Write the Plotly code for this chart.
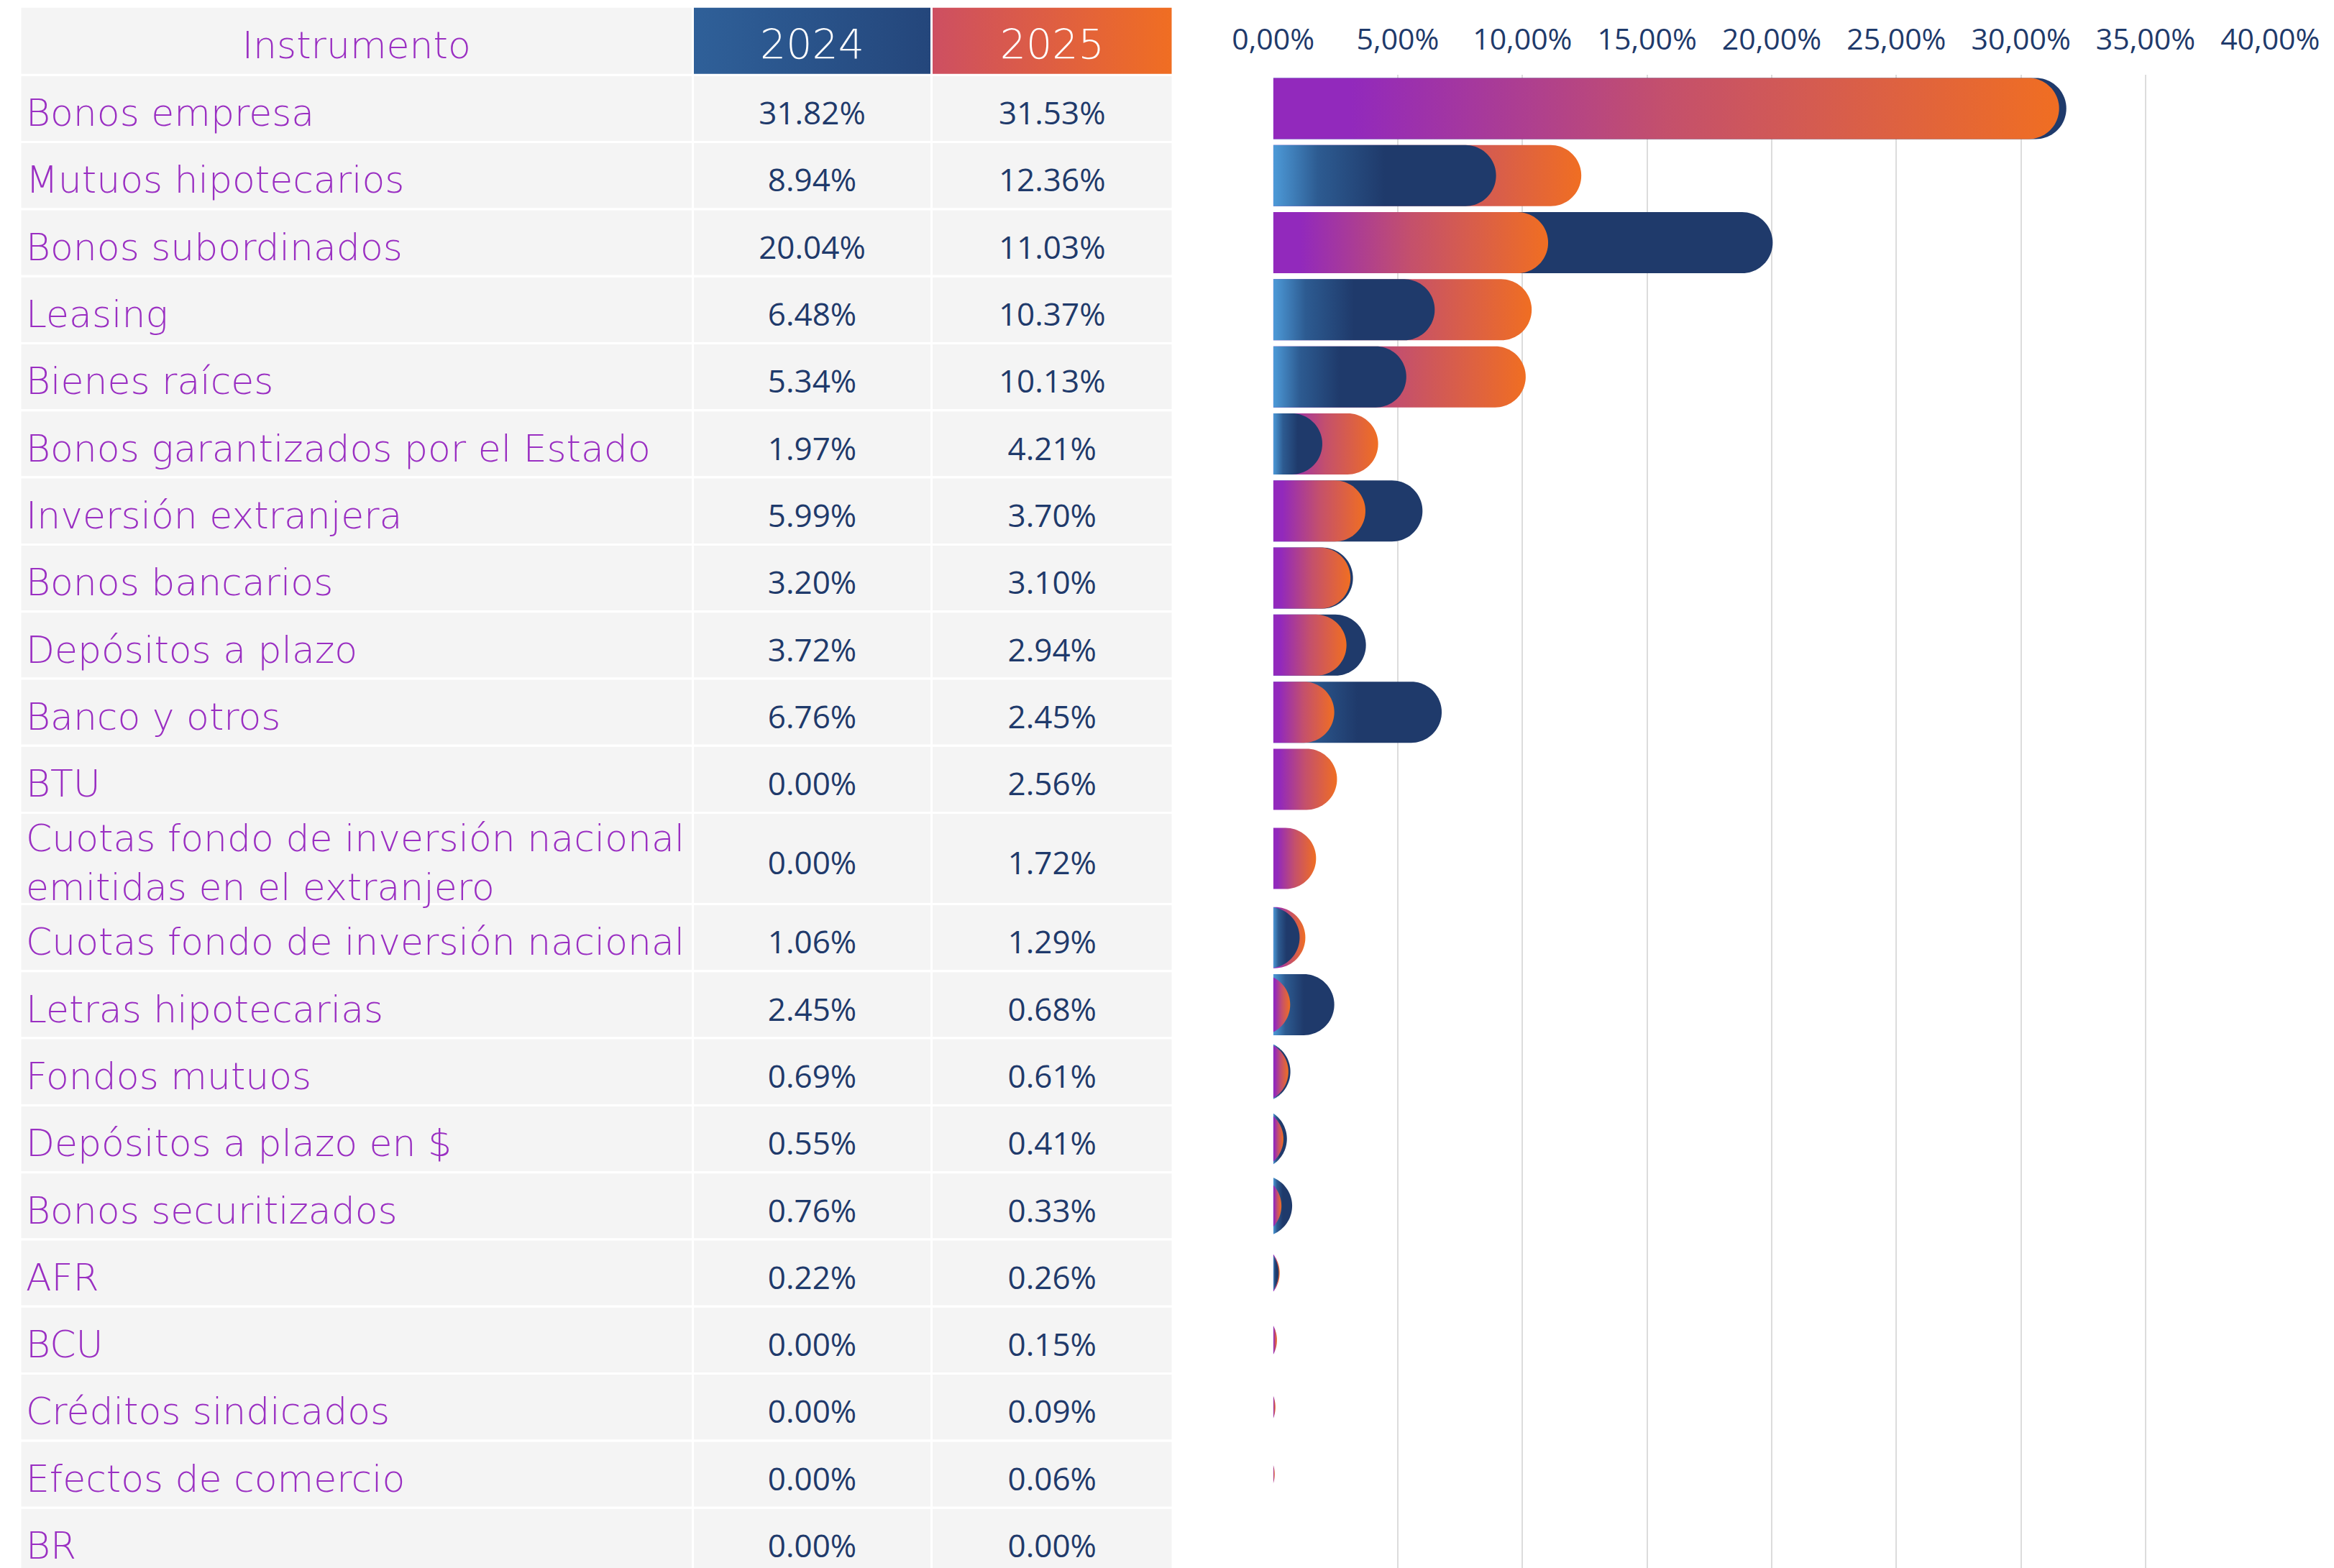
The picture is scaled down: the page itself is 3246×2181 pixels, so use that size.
import numpy as np
import plotly.graph_objects as go

# ---------------- data ----------------
instrumentos = [
    "Bonos empresa", "Mutuos hipotecarios", "Bonos subordinados", "Leasing", "Bienes raíces",
    "Bonos garantizados por el Estado", "Inversión extranjera", "Bonos bancarios",
    "Depósitos a plazo", "Banco y otros", "BTU",
    "Cuotas fondo de inversión nacional<br>emitidas en el extranjero",
    "Cuotas fondo de inversión nacional", "Letras hipotecarias", "Fondos mutuos",
    "Depósitos a plazo en $", "Bonos securitizados", "AFR", "BCU", "Créditos sindicados",
    "Efectos de comercio", "BR",
]
valores_2024 = [31.82, 8.94, 20.04, 6.48, 5.34, 1.97, 5.99, 3.20, 3.72, 6.76, 0.00,
                0.00, 1.06, 2.45, 0.69, 0.55, 0.76, 0.22, 0.00, 0.00, 0.00, 0.00]
valores_2025 = [31.53, 12.36, 11.03, 10.37, 10.13, 4.21, 3.70, 3.10, 2.94, 2.45, 2.56,
                1.72, 1.29, 0.68, 0.61, 0.41, 0.33, 0.26, 0.15, 0.09, 0.06, 0.00]
encabezados = ["Instrumento", "2024", "2025"]
tick_vals = [0, 5, 10, 15, 20, 25, 30, 35, 40]
tick_labels = ["0,00%", "5,00%", "10,00%", "15,00%", "20,00%", "25,00%", "30,00%", "35,00%", "40,00%"]

# ---------------- layout constants ----------------
W, H = 3246, 2181
UNIT_PX = 93.3            # height of a one-line row
DATA_TOP_PX = 104.3       # top of first data row
HEADER_H = 1.02           # header height in row units
EXTRA_LINE_H = 0.36       # extra height per additional text line
TEXT_DY = 0.12            # downward nudge of cell text (row units)
COL_EDGES = [28, 963.5, 1295.5, 1631]   # table column edges (px units of table axis)
BAR_X0_PX, BAR_X1_PX = 1770.7, 3157.3
X_MAX = 40
BAR_THICK_PX = 85.0

NAVY = "#1f3a6b"
PURPLE = "#9a2fc2"
CELL = "#f4f4f4"
GRID = "#dcdcdc"
SC_2024 = [[0, "#4d9ad8"], [0.2, "#2d5b91"], [0.5, NAVY], [1, NAVY]]
SC_2025 = [[0, "#9229bc"], [0.1, "#9229bc"], [0.5, "#c4506c"], [1, "#f06e22"]]
SC_H2024 = [[0, "#2f6099"], [1, "#24467b"]]
SC_H2025 = [[0, "#cd4f62"], [1, "#f06e22"]]

LABEL_FONT = dict(family="DejaVu Sans", size=52, color=PURPLE, weight=200)
VALUE_FONT = dict(family="Open Sans", size=44, color=NAVY)

# ---------------- row geometry (from labels) ----------------
n = len(instrumentos)
heights = [1 + EXTRA_LINE_H * lab.count("<br>") for lab in instrumentos]
tops = np.concatenate([[0], np.cumsum(heights)[:-1]])
centers = tops + np.array(heights) / 2
text_y = list(centers + TEXT_DY)

fig = go.Figure()

# ---------------- table cells ----------------
for j in range(3):
    x0, x1 = COL_EDGES[j], COL_EDGES[j + 1]
    fig.add_trace(go.Bar(
        orientation="h", y=list(centers), x=[x1 - x0] * n, base=[x0] * n, width=heights,
        marker=dict(color=CELL, line=dict(color="white", width=3)),
        xaxis="x2", yaxis="y", hoverinfo="skip", showlegend=False))

# header cells
fig.add_trace(go.Bar(
    orientation="h", y=[-HEADER_H / 2], x=[COL_EDGES[1] - COL_EDGES[0]], base=[COL_EDGES[0]],
    width=[HEADER_H], marker=dict(color=CELL, line=dict(color="white", width=3)),
    xaxis="x2", yaxis="y", hoverinfo="skip", showlegend=False))
for j, sc in ((1, SC_H2024), (2, SC_H2025)):
    x0, x1 = COL_EDGES[j], COL_EDGES[j + 1]
    fig.add_trace(go.Scatter(
        x=[x0, x1, x1, x0, x0], y=[-HEADER_H, -HEADER_H, 0, 0, -HEADER_H],
        mode="lines", fill="toself", line=dict(color="white", width=3),
        fillgradient=dict(type="horizontal", colorscale=sc),
        xaxis="x2", yaxis="y", hoverinfo="skip", showlegend=False))

# header text
mid = [(COL_EDGES[j] + COL_EDGES[j + 1]) / 2 for j in range(3)]
fig.add_trace(go.Scatter(
    x=mid, y=[-HEADER_H / 2 + TEXT_DY] * 3, mode="text", text=encabezados,
    textposition="middle center",
    textfont=dict(family="DejaVu Sans", size=[52, 57, 57], weight=200,
                  color=[PURPLE, "white", "white"]),
    xaxis="x2", yaxis="y", hoverinfo="skip", showlegend=False))

# row labels and values
fig.add_trace(go.Scatter(
    x=[COL_EDGES[0] + 8] * n, y=text_y, mode="text", text=instrumentos,
    textposition="middle right", textfont=LABEL_FONT,
    xaxis="x2", yaxis="y", hoverinfo="skip", showlegend=False))
for j, vals in ((1, valores_2024), (2, valores_2025)):
    fig.add_trace(go.Scatter(
        x=[mid[j]] * n, y=text_y, mode="text", text=[f"{v:.2f}%" for v in vals],
        textposition="middle center", textfont=VALUE_FONT,
        xaxis="x2", yaxis="y", hoverinfo="skip", showlegend=False))

# ---------------- rounded gradient bars ----------------
px_per_unit_x = (BAR_X1_PX - BAR_X0_PX) / X_MAX
rx = (BAR_THICK_PX / 2) / px_per_unit_x
ry = (BAR_THICK_PX / 2) / UNIT_PX


def bar_path(v, yc):
    cx = v - rx
    if cx >= 0:
        th = np.linspace(-np.pi / 2, np.pi / 2, 41)
        xs = [0] + list(cx + rx * np.cos(th)) + [0, 0]
        ys = [yc - ry] + list(yc + ry * np.sin(th)) + [yc + ry, yc - ry]
    else:
        tmax = np.arccos(min(1.0, -cx / rx))
        th = np.linspace(-tmax, tmax, 41)
        xs = list(np.maximum(cx + rx * np.cos(th), 0)) + [max(cx + rx * np.cos(-tmax), 0)]
        ys = list(yc + ry * np.sin(th)) + [yc + ry * np.sin(-tmax)]
    return xs, ys


def add_bar(v, yc, sc):
    if v <= 0:
        return
    xs, ys = bar_path(v, yc)
    fig.add_trace(go.Scatter(
        x=xs, y=ys, mode="none", fill="toself",
        fillgradient=dict(type="horizontal", colorscale=sc, start=0, stop=v),
        xaxis="x", yaxis="y2", hoverinfo="skip", showlegend=False))


# longer bar drawn first, shorter on top
for i in range(n):
    a, b = valores_2024[i], valores_2025[i]
    if a >= b:
        add_bar(a, centers[i], SC_2024)
    else:
        add_bar(b, centers[i], SC_2025)
for i in range(n):
    a, b = valores_2024[i], valores_2025[i]
    if a >= b:
        add_bar(b, centers[i], SC_2025)
    else:
        add_bar(a, centers[i], SC_2024)

# ---------------- axes ----------------
y_bottom = (H - DATA_TOP_PX) / UNIT_PX
fig.update_layout(
    template="none",
    width=W, height=H, margin=dict(l=0, r=0, t=0, b=0, pad=0, autoexpand=False),
    paper_bgcolor="white", plot_bgcolor="rgba(0,0,0,0)",
    barmode="overlay", showlegend=False,
    xaxis=dict(domain=[BAR_X0_PX / W, BAR_X1_PX / W], range=[0, X_MAX], anchor="y2",
               side="top", tickvals=tick_vals, ticktext=tick_labels,
               tickfont=dict(family="Open Sans", size=41, color=NAVY),
               showgrid=True, gridcolor=GRID, gridwidth=2, zeroline=False,
               showline=False, ticks="", ticklabelstandoff=26, automargin=False,
               fixedrange=True),
    yaxis2=dict(domain=[0, 1 - DATA_TOP_PX / H], range=[y_bottom, 0], anchor="x",
                visible=False, automargin=False, fixedrange=True),
    xaxis2=dict(domain=[0, 1], range=[0, W], anchor="y", visible=False,
                automargin=False, fixedrange=True),
    yaxis=dict(domain=[0, 1], range=[y_bottom, -DATA_TOP_PX / UNIT_PX], anchor="x2",
               visible=False, automargin=False, fixedrange=True),
)

fig.write_html("out.html", config={"displayModeBar": False},
               post_script="document.body.style.margin='0';document.body.style.overflow='hidden';")
